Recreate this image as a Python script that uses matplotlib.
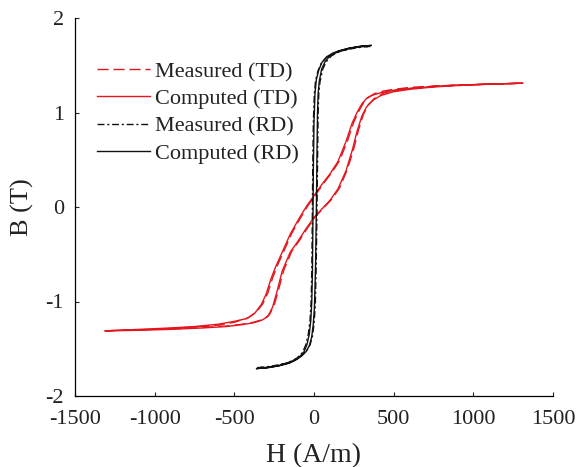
import matplotlib
matplotlib.use("Agg")
import matplotlib.pyplot as plt

# TD loop, computed: ascending branch (-Hmax -> +Hmax) and descending branch (+Hmax -> -Hmax)
td_comp_up_h = [-1310, -1100, -900, -700, -550, -450, -380, -330, -290, -260, -230, -200, -150, -100,
                -50, 0, 50, 100, 150, 200, 240, 270, 300, 330, 370, 420, 500, 600, 750, 900, 1100, 1310]
td_comp_up_b = [-1.31, -1.305, -1.295, -1.28, -1.265, -1.245, -1.225, -1.20, -1.16, -1.06, -0.88, -0.68,
                -0.48, -0.36, -0.23, -0.11, -0.02, 0.07, 0.19, 0.38, 0.60, 0.80, 0.96, 1.06, 1.13, 1.18,
                1.22, 1.245, 1.27, 1.285, 1.30, 1.31]
td_comp_dn_h = [1310, 1100, 900, 750, 600, 500, 420, 370, 330, 300, 270, 240, 200, 150, 100, 50, 0,
                -50, -100, -150, -200, -240, -270, -300, -330, -370, -420, -500, -600, -750, -900, -1100, -1310]
td_comp_dn_b = [1.31, 1.30, 1.29, 1.275, 1.255, 1.235, 1.21, 1.185, 1.15, 1.09, 1.0, 0.89, 0.69, 0.48,
                0.35, 0.24, 0.12, 0.0, -0.14, -0.29, -0.48, -0.63, -0.76, -0.92, -1.03, -1.12, -1.18,
                -1.21, -1.24, -1.265, -1.28, -1.295, -1.31]

# TD loop, measured
td_meas_up_h = [-1300, -1100, -900, -700, -550, -450, -380, -320, -280, -250, -220, -190, -140, -90,
                -40, 10, 60, 110, 160, 210, 250, 280, 310, 340, 380, 430, 500, 600, 750, 900, 1100, 1300]
td_meas_up_b = [-1.31, -1.30, -1.29, -1.275, -1.26, -1.24, -1.22, -1.19, -1.14, -1.04, -0.86, -0.67,
                -0.47, -0.35, -0.22, -0.10, -0.01, 0.08, 0.20, 0.40, 0.62, 0.82, 0.98, 1.08, 1.15, 1.20,
                1.235, 1.255, 1.275, 1.29, 1.30, 1.31]
td_meas_dn_h = [1300, 1100, 900, 750, 600, 500, 430, 380, 340, 310, 280, 250, 210, 160, 110, 60, 10,
                -40, -90, -140, -190, -230, -260, -290, -320, -360, -410, -500, -600, -750, -900, -1100, -1300]
td_meas_dn_b = [1.31, 1.30, 1.29, 1.28, 1.265, 1.245, 1.225, 1.20, 1.16, 1.10, 1.01, 0.90, 0.70, 0.49,
                0.36, 0.25, 0.13, 0.01, -0.13, -0.28, -0.47, -0.62, -0.75, -0.91, -1.02, -1.11, -1.17,
                -1.22, -1.25, -1.27, -1.285, -1.30, -1.31]

# RD loop, computed
rd_comp_up_h = [-360, -290, -220, -160, -120, -80, -50, -30, -15, -5, 3, 10, 15, 19, 22, 26, 33, 48,
                70, 100, 150, 220, 290, 360]
rd_comp_up_b = [-1.71, -1.70, -1.68, -1.655, -1.625, -1.58, -1.53, -1.47, -1.38, -1.25, -1.05, -0.6,
                0.0, 0.6, 1.0, 1.2, 1.33, 1.46, 1.54, 1.60, 1.645, 1.68, 1.70, 1.71]
rd_comp_dn_h = [360, 290, 220, 160, 120, 80, 50, 30, 15, 6, 0, -4, -7, -10, -14, -20, -30, -45, -65,
                -100, -150, -220, -290, -360]
rd_comp_dn_b = [1.71, 1.70, 1.68, 1.655, 1.63, 1.59, 1.53, 1.45, 1.35, 1.2, 0.9, 0.4, -0.2, -0.7,
                -1.0, -1.2, -1.35, -1.46, -1.54, -1.60, -1.645, -1.68, -1.70, -1.71]

# RD loop, measured
rd_meas_up_h = [-355, -290, -220, -160, -115, -75, -45, -25, -10, 0, 8, 14, 19, 23, 26, 30, 38, 55,
                78, 110, 160, 225, 290, 355]
rd_meas_up_b = [-1.70, -1.69, -1.67, -1.645, -1.615, -1.57, -1.52, -1.46, -1.37, -1.24, -1.04, -0.6,
                0.0, 0.6, 1.0, 1.2, 1.33, 1.46, 1.54, 1.60, 1.645, 1.675, 1.695, 1.70]
rd_meas_dn_h = [355, 290, 220, 160, 115, 75, 45, 25, 10, 2, -4, -8, -11, -14, -18, -25, -36, -52, -72,
                -108, -160, -225, -290, -355]
rd_meas_dn_b = [1.70, 1.69, 1.67, 1.645, 1.62, 1.58, 1.52, 1.44, 1.34, 1.19, 0.9, 0.4, -0.2, -0.7,
                -1.0, -1.2, -1.35, -1.46, -1.54, -1.60, -1.645, -1.675, -1.695, -1.70]

labels = ["Measured (TD)", "Computed (TD)", "Measured (RD)", "Computed (RD)"]
x_ticks = [-1500, -1000, -500, 0, 500, 1000, 1500]
y_ticks = [-2, -1, 0, 1, 2]

red = "#e3161d"
black = "#111111"
text_col = "#222222"

plt.rcParams["font.family"] = ["Liberation Serif", "DejaVu Serif"]

fig = plt.figure(figsize=(5.78, 4.67), dpi=100)
ax = fig.add_axes([75 / 578, 71 / 467, 478 / 578, 378 / 467])

lw = 1.0
ax.plot(td_meas_up_h + td_meas_dn_h, td_meas_up_b + td_meas_dn_b, color=red, lw=lw,
        linestyle=(0, (8, 3.5)), label=labels[0])
ax.plot(td_comp_up_h + td_comp_dn_h, td_comp_up_b + td_comp_dn_b, color=red, lw=lw,
        linestyle="-", label=labels[1])
ax.plot(rd_meas_up_h + rd_meas_dn_h, rd_meas_up_b + rd_meas_dn_b, color=black, lw=lw,
        linestyle=(0, (5, 2, 1.5, 2)), label=labels[2])
ax.plot(rd_comp_up_h + rd_comp_dn_h, rd_comp_up_b + rd_comp_dn_b, color=black, lw=lw,
        linestyle="-", label=labels[3])

ax.set_xlim(-1500, 1500)
ax.set_ylim(-2, 2)
ax.set_xticks(x_ticks)
ax.set_yticks(y_ticks)
ax.set_xticklabels([str(v) for v in x_ticks])
ax.set_yticklabels([str(v) for v in y_ticks])

for side in ["top", "right"]:
    ax.spines[side].set_visible(False)
for side in ["left", "bottom"]:
    ax.spines[side].set_linewidth(0.9)
ax.tick_params(direction="in", length=3, width=0.8, labelsize=16, colors=text_col)
ax.tick_params(axis="x", pad=10)
ax.tick_params(axis="y", pad=8)

ax.set_xlabel("H (A/m)", fontsize=20, color=text_col, labelpad=10)
ax.set_ylabel("B (T)", fontsize=19, color=text_col, labelpad=8)

ax.legend(loc="upper left", bbox_to_anchor=(0.046, 0.885), frameon=False, fontsize=16,
          handlelength=2.4, handletextpad=0.2, labelspacing=0.3, borderpad=0, borderaxespad=0,
          labelcolor=text_col)

fig.savefig("out.png", dpi=100)
